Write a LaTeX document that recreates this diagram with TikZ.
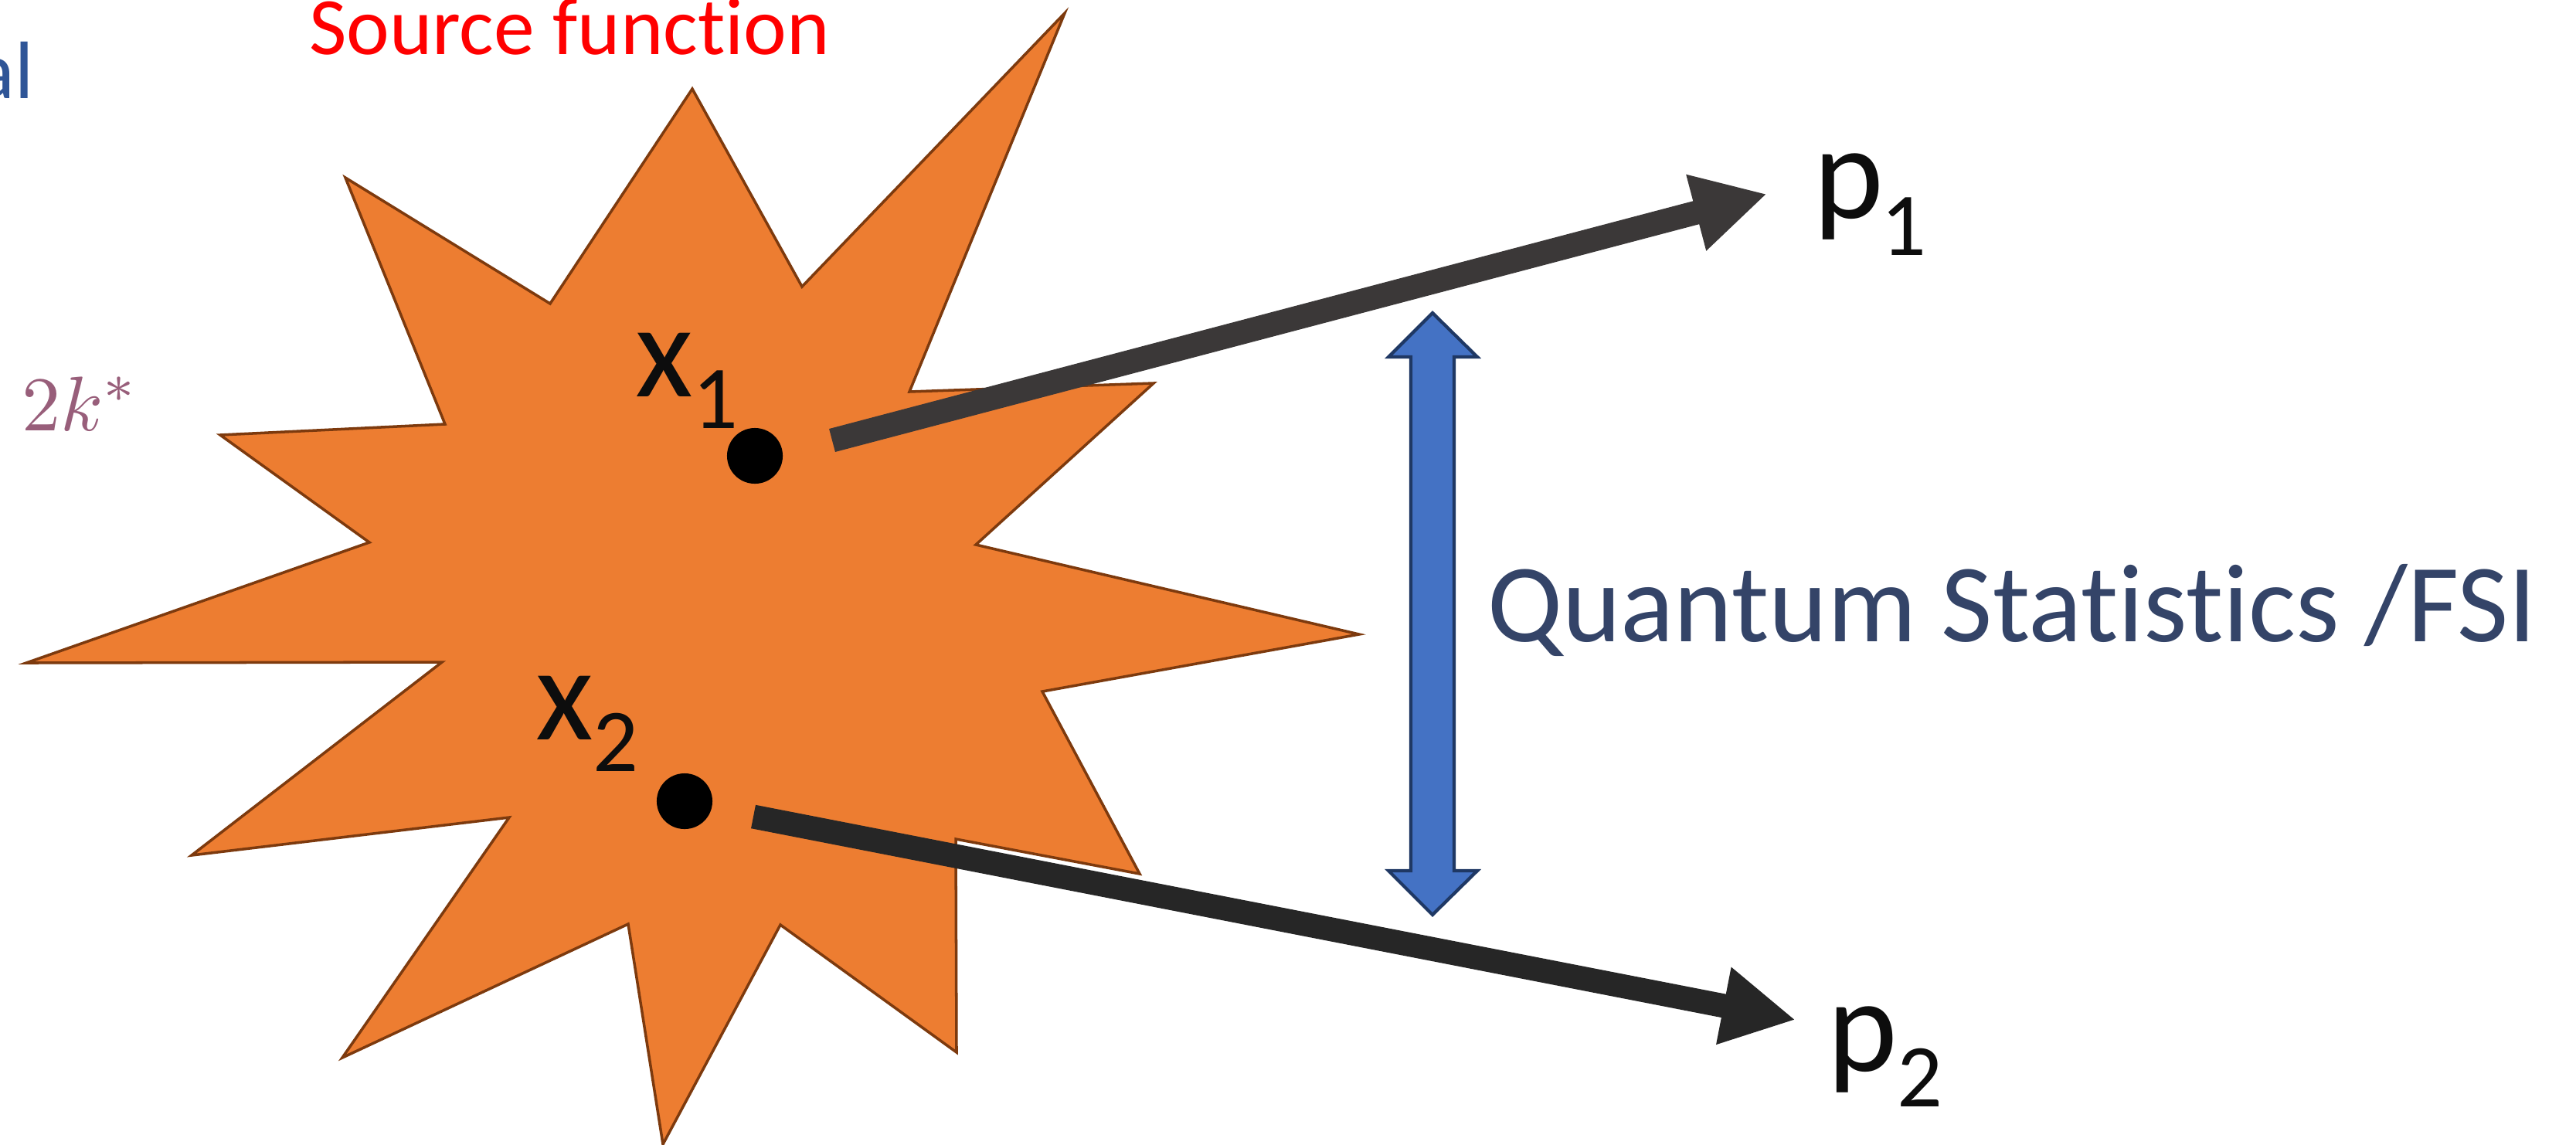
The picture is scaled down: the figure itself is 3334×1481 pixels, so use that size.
\documentclass[tikz,border=0pt]{standalone}
\usepackage{graphicx}
\usepackage{fontspec}
\setmainfont[Ligatures=NoCommon]{Carlito}
\usetikzlibrary{arrows.meta}
\definecolor{starfill}{HTML}{ED7D31}
\definecolor{staredge}{RGB}{125,58,14}
\definecolor{arrowA}{HTML}{3B3838}
\definecolor{arrowB}{HTML}{262626}
\definecolor{qblue}{HTML}{4472C4}
\definecolor{qedge}{RGB}{31,56,100}
\definecolor{qtext}{RGB}{52,68,104}
\definecolor{kcol}{RGB}{152,94,122}
\definecolor{alblue}{HTML}{2F5597}
\definecolor{lblblack}{RGB}{13,13,13}
\begin{document}
\begin{tikzpicture}[x=0.01cm,y=-0.01cm,
  lbl/.style={anchor=base west, inner sep=0pt, outer sep=0pt},
  bigfont/.style={font=\fontsize{49}{56}\selectfont, text=lblblack},
  momarrow/.style={line width=8.8pt, -{Triangle[length=27pt,width=27pt]}},
  dot/.style={circle, fill=black, minimum size=20.5pt, inner sep=0pt, outer sep=0pt}]
\useasboundingbox (0,0) rectangle (3334,1481);
% source star
\draw[fill=starfill, draw=staredge, line width=1pt]
  (1378,17) -- (1177,507) -- (1493,496) -- (1263,705) -- (1759,821) -- (1349,895)
  -- (1475,1131) -- (1237,1086) -- (1238,1362) -- (1010,1197) -- (858,1481)
  -- (813,1196) -- (443,1369) -- (659,1058) -- (248,1107) -- (572,857) -- (34,858)
  -- (478,702) -- (285,563) -- (576,549) -- (447,230) -- (712,393) -- (896,115)
  -- (1038,371) -- cycle;
% texts
\node[lbl, text=red, font=\fontsize{30}{36}\selectfont] (src) at (400,70) {Source function};
\node[anchor=base east, inner sep=0pt, text=alblue, font=\fontsize{30}{36}\selectfont] (al) at (44,127) {al};
\node[lbl, text=kcol] (kstar) at (28,557) {\scalebox{2.85}{$2k^*$}};
% points
\node[dot] (d1) at (977,590) {};
\node[dot] (d2) at (886,1037) {};
\node[lbl, bigfont] (x1l) at (822,513) {x\raisebox{-11.9pt}{\fontsize{33}{36}\selectfont 1}};
\node[lbl, bigfont] (x2l) at (693,957) {x\raisebox{-11.7pt}{\fontsize{33}{36}\selectfont 2}};
\node[lbl, bigfont] (p1l) at (2347,282) {p\kern-1pt\raisebox{-13.7pt}{\fontsize{33}{36}\selectfont 1}};
\node[lbl, bigfont] (p2l) at (2365,1386) {p\raisebox{-13.1pt}{\fontsize{33}{36}\selectfont 2}};
% momentum arrows
\coordinate (a1s) at (1077,570);
\coordinate (a1e) at (2287,251);
\coordinate (a2s) at (975,1057);
\coordinate (a2e) at (2324,1320);
\draw[momarrow, arrowA] (a1s) -- (a1e);
\draw[momarrow, arrowB] (a2s) -- (a2e);
% double arrow
\draw[fill=qblue, draw=qedge, line width=1.2pt, line join=miter]
  (1854,405) -- (1912,462) -- (1882,462) -- (1882,1127) -- (1912,1127) -- (1854,1184)
  -- (1797,1127) -- (1826,1127) -- (1826,462) -- (1797,462) -- cycle;
\node[lbl, text=qtext, font=\fontsize{41}{48}\selectfont] (qs) at (1925,830) {Quantum Statistics /FSI};
\end{tikzpicture}
\end{document}
